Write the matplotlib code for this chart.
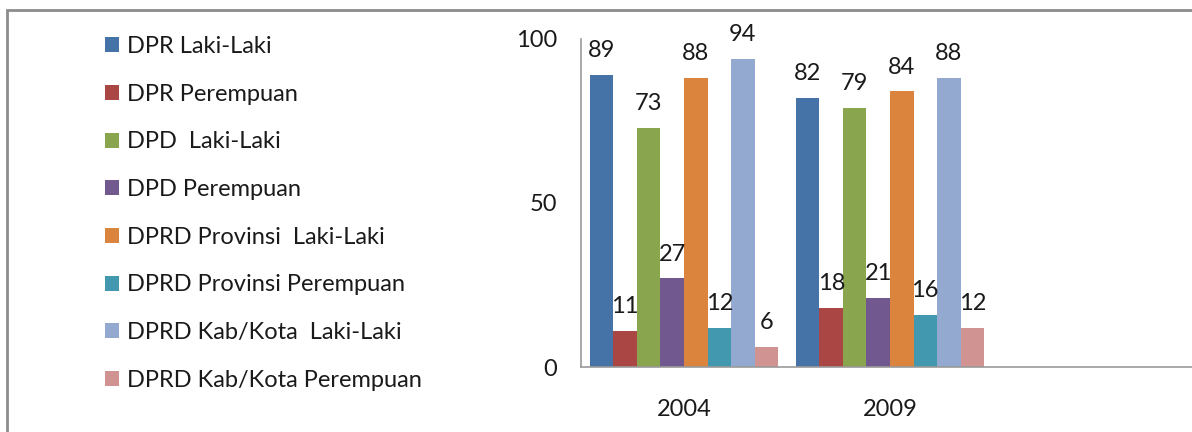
import matplotlib
matplotlib.use("Agg")
import matplotlib.pyplot as plt
import numpy as np
from matplotlib.patches import Rectangle

plt.rcParams['font.family'] = ['Lato', 'DejaVu Sans']

years = ['2004', '2009', '']
series = [
    'DPR Laki-Laki',
    'DPR Perempuan',
    'DPD  Laki-Laki',
    'DPD Perempuan',
    'DPRD Provinsi  Laki-Laki',
    'DPRD Provinsi Perempuan',
    'DPRD Kab/Kota  Laki-Laki',
    'DPRD Kab/Kota Perempuan',
]
values_2004 = [89, 11, 73, 27, 88, 12, 94, 6]
values_2009 = [82, 18, 79, 21, 84, 16, 88, 12]
colors = ['#4572A7', '#AA4643', '#89A54E', '#71588F',
          '#DB843D', '#4198AF', '#93A9CF', '#D19392']

W, H = 1192, 432
FS = 17
fig = plt.figure(figsize=(W / 100, H / 100), dpi=100)

# outer frame, only its top and left edges fall inside the image
fig.add_artist(Rectangle((7 / W, -0.1), 1.2, (H - 10) / H + 0.1,
                         transform=fig.transFigure, fill=False,
                         edgecolor='#8c8c8c', linewidth=2))

ax = fig.add_axes([581 / W, (H - 367) / H, (1199 - 581) / W, (367 - 39) / H])

n = len(series)
bw = 0.913 / n
x = np.arange(len(years))
data = np.array([values_2004, values_2009], dtype=float)
handles = []
for i in range(n):
    pos = x[:2] - 0.913 / 2 + bw * (i + 0.5)
    bars = ax.bar(pos, data[:, i], width=bw, color=colors[i], label=series[i])
    ax.bar_label(bars, labels=[str(int(v)) for v in data[:, i]],
                 padding=10, fontsize=FS, color='#1a1a1a')
    handles.append(bars)

ax.set_xlim(-0.5, 2.5)
ax.set_ylim(0, 100)
ax.set_yticks([0, 50, 100])
ax.set_xticks(x)
ax.set_xticklabels(years)
ax.tick_params(axis='both', length=0, labelsize=FS, colors='#1a1a1a')
ax.tick_params(axis='y', pad=17)
ax.tick_params(axis='x', pad=23)
for side in ['top', 'right']:
    ax.spines[side].set_visible(False)
for side in ['left', 'bottom']:
    ax.spines[side].set_color('#9a9a9a')
    ax.spines[side].set_linewidth(1.2)

fig.legend(handles=handles, loc='upper left',
           bbox_to_anchor=(105 / W, (H - 36) / H), borderpad=0,
           borderaxespad=0, frameon=False, fontsize=FS,
           handlelength=0.6, handleheight=0.6, handletextpad=0.34,
           labelspacing=1.13, labelcolor='#1a1a1a')

fig.savefig('out.png', dpi=100)
